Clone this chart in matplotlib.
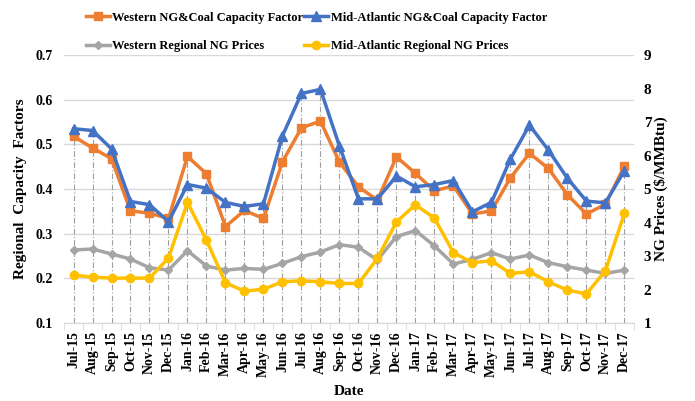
import numpy as np
import matplotlib
matplotlib.use("Agg")
import matplotlib.pyplot as plt

months = ["Jul-15", "Aug-15", "Sep-15", "Oct-15", "Nov-15", "Dec-15",
          "Jan-16", "Feb-16", "Mar-16", "Apr-16", "May-16", "Jun-16",
          "Jul-16", "Aug-16", "Sep-16", "Oct-16", "Nov-16", "Dec-16",
          "Jan-17", "Feb-17", "Mar-17", "Apr-17", "May-17", "Jun-17",
          "Jul-17", "Aug-17", "Sep-17", "Oct-17", "Nov-17", "Dec-17"]

western_cf = [0.518, 0.492, 0.468, 0.351, 0.346, 0.334, 0.473, 0.434, 0.316, 0.352,
              0.334, 0.461, 0.537, 0.552, 0.460, 0.405, 0.375, 0.472, 0.435, 0.396,
              0.407, 0.344, 0.351, 0.425, 0.480, 0.446, 0.387, 0.344, 0.366, 0.451]
midatl_cf = [0.535, 0.531, 0.490, 0.372, 0.365, 0.327, 0.410, 0.402, 0.370, 0.361,
             0.367, 0.519, 0.614, 0.623, 0.496, 0.378, 0.378, 0.429, 0.405, 0.410,
             0.419, 0.349, 0.370, 0.467, 0.543, 0.487, 0.424, 0.373, 0.369, 0.441]
western_ng = [3.18, 3.21, 3.06, 2.91, 2.65, 2.58, 3.16, 2.70, 2.58, 2.63,
              2.60, 2.78, 2.98, 3.12, 3.34, 3.26, 2.88, 3.58, 3.76, 3.30,
              2.76, 2.90, 3.10, 2.91, 3.03, 2.80, 2.68, 2.58, 2.48, 2.58]
midatl_ng = [2.43, 2.37, 2.34, 2.34, 2.34, 2.94, 4.60, 3.47, 2.20, 1.95,
             2.01, 2.23, 2.26, 2.23, 2.18, 2.18, 2.93, 4.02, 4.53, 4.13,
             3.10, 2.80, 2.86, 2.48, 2.53, 2.23, 1.98, 1.87, 2.56, 4.27]

ORANGE = "#ED7D31"
BLUE = "#4472C4"
GRAY = "#A5A5A5"
YELLOW = "#FFC000"
GRID = "#D9D9D9"

plt.rcParams["font.family"] = "Liberation Serif"
plt.rcParams["font.weight"] = "bold"
plt.rcParams["axes.labelweight"] = "bold"


def main():
    x = np.arange(len(months))
    fig = plt.figure(figsize=(6.95, 4.01), dpi=100)
    ax = fig.add_axes([0.0921, 0.1945, 0.820, 0.6683])
    ax2 = ax.twinx()

    # drop lines from the highest point to the axis
    tops = np.maximum(western_cf, midatl_cf)
    ax.vlines(x, 0.1, tops, colors="#9E9E9E", linestyles=(0, (5, 2, 1, 2)),
              linewidth=0.8, zorder=1)

    l1, = ax.plot(x, western_cf, color=ORANGE, lw=2.5, marker="s", ms=6,
                  label="Western NG&Coal Capacity Factor", zorder=3)
    l2, = ax.plot(x, midatl_cf, color=BLUE, lw=2.5, marker="^", ms=7,
                  label="Mid-Atlantic NG&Coal Capacity Factor", zorder=3)
    l3, = ax2.plot(x, western_ng, color=GRAY, lw=2.5, marker="D", ms=4.5,
                   label="Western Regional NG Prices", zorder=3)
    l4, = ax2.plot(x, midatl_ng, color=YELLOW, lw=2.5, marker="o", ms=6,
                   label="Mid-Atlantic Regional NG Prices", zorder=3)

    ax.set_xlim(-0.5, len(months) - 0.5)
    ax.set_ylim(0.1, 0.7)
    ax2.set_ylim(1, 9)
    ax.set_yticks(np.arange(0.1, 0.71, 0.1))
    ax.set_yticklabels([f"{v:.1f}" for v in np.arange(0.1, 0.71, 0.1)])
    ax2.set_yticks(range(1, 10))
    ax.yaxis.grid(True, color=GRID, lw=1)
    ax.set_axisbelow(True)

    ax.set_xticks(x)
    ax.set_xticklabels(months, rotation=90)
    ax.set_xticks(np.arange(-0.5, len(months), 1), minor=True)
    ax.tick_params(axis="x", which="major", length=0, pad=6, labelsize=10)
    ax.tick_params(axis="x", which="minor", length=5, color=GRID, direction="out")
    ax.tick_params(axis="y", length=0, labelsize=10, pad=8)
    ax2.tick_params(axis="y", length=0, labelsize=11, pad=7)

    for a in (ax, ax2):
        for s in ("top", "left", "right"):
            a.spines[s].set_visible(False)
        a.spines["bottom"].set_color(GRID)

    ax.set_xlabel("Date", fontsize=11, labelpad=6)
    ax.set_ylabel("Regional  Capacity  Factors", fontsize=11, labelpad=6)
    ax2.set_ylabel("NG Prices ($/MMBtu)", fontsize=11, labelpad=2)

    fig.legend(handles=[l1, l3, l2, l4], loc="upper left",
               bbox_to_anchor=(0.118, 0.98), ncol=2, frameon=False,
               fontsize=9, handlelength=1.9, handletextpad=0.2,
               columnspacing=0.1, labelspacing=1.3, borderpad=0.3,
               borderaxespad=0)

    fig.savefig("out.png", dpi=100)


if __name__ == "__main__":
    main()
